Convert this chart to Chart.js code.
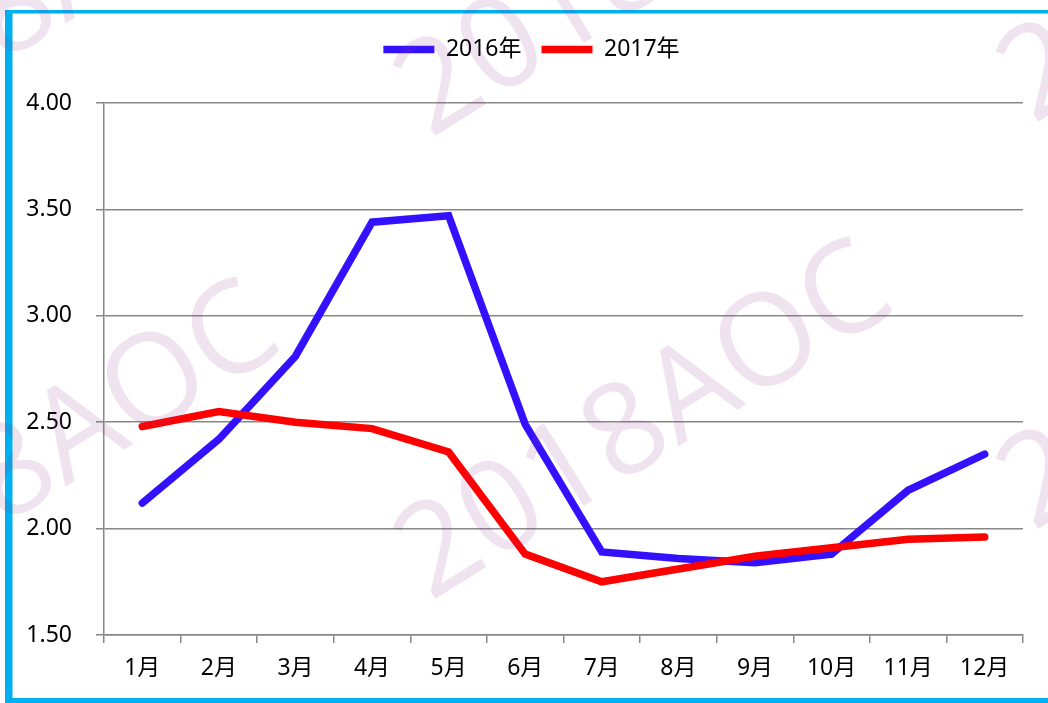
<!DOCTYPE html>
<html>
<head>
	<meta charset="UTF-8">
	<title>2016-2017</title>
	<script src="https://cdn.jsdelivr.net/npm/chart.js@4.4.0/dist/chart.umd.min.js"></script>
	<style>
		body {
			margin:0;
			padding:0;
			overflow: hidden;
			background:#fff;
		}
		canvas {
			display:block;
		}
	</style>
</head>
<body>
	<canvas id="chart" width="1048" height="703"></canvas>
	<script>
		const months = ['1月','2月','3月','4月','5月','6月','7月','8月','9月','10月','11月','12月'];
		const y2016 = [2.12, 2.42, 2.81, 3.44, 3.47, 2.49, 1.89, 1.86, 1.84, 1.88, 2.18, 2.35];
		const y2017 = [2.48, 2.55, 2.50, 2.47, 2.36, 1.88, 1.75, 1.81, 1.87, 1.91, 1.95, 1.96];
		const yTicks = [1.5, 2.0, 2.5, 3.0, 3.5, 4.0];

		const FONT = "'Noto Sans', 'Noto Sans CJK SC', sans-serif";
		const GRID = '#878787';

		// background, cyan frame and the 2018AOC watermark
		const decor = {
			id: 'decor',
			beforeInit(chart) {
				// make the legend box taller so the plot starts lower
				const fit = chart.legend.fit;
				chart.legend.fit = function() {
					fit.call(this);
					this.height += 32;
				};
			},
			afterLayout(chart) {
				// legend sits a bit right of the canvas centre
				chart.legend.left += 20;
				chart.legend.right += 20;
			},
			beforeDraw(chart) {
				const ctx = chart.ctx;
				ctx.save();
				ctx.fillStyle = '#fff';
				ctx.fillRect(0, 0, chart.width, chart.height);
				ctx.restore();
			},
			afterDraw(chart) {
				const ctx = chart.ctx;
				ctx.save();
				ctx.fillStyle = '#00b0f0';
				ctx.fillRect(5, 10, chart.width - 5, 3.5);
				ctx.fillRect(5, 10, 7.5, chart.height - 10);
				ctx.fillRect(5, 698, chart.width - 5, 5);

				ctx.fillStyle = 'rgba(150,60,150,0.14)';
				ctx.font = "128px 'Open Sans', sans-serif";
				ctx.textBaseline = 'alphabetic';
				const spots = [[430, 602], [430, 139], [-183, 642], [1033, 532], [1033, 125], [-183, 179]];
				spots.forEach(p => {
					ctx.save();
					ctx.translate(p[0], p[1]);
					ctx.rotate(-32 * Math.PI / 180);
					ctx.fillText('2018AOC', 0, 0);
					ctx.restore();
				});
				ctx.restore();
			}
		};

		const ctx = document.getElementById('chart').getContext('2d');
		const myChart = new Chart(ctx, {
			type: 'line',
			data: {
				labels: months,
				datasets: [{
					label: '2016年',
					data: y2016,
					borderColor: '#3311ff',
					backgroundColor: '#3311ff',
					borderWidth: 7.5,
					borderCapStyle: 'round',
					pointRadius: 0,
					tension: 0,
					order: 1
				},
				{
					label: '2017年',
					data: y2017,
					borderColor: '#ff0000',
					backgroundColor: '#ff0000',
					borderWidth: 7.5,
					borderCapStyle: 'round',
					pointRadius: 0,
					tension: 0,
					order: 0
				}]
			},
			options: {
				responsive: false,
				animation: false,
				devicePixelRatio: 1,
				layout: {
					padding: {left: 0, right: 25, top: 18, bottom: 18}
				},
				plugins: {
					tooltip: {enabled: false},
					legend: {
						position: 'top',
						labels: {
							usePointStyle: true,
							pointStyle: 'line',
							pointStyleWidth: 51,
							padding: 20,
							color: '#000',
							font: {family: FONT, size: 23},
							sort: (a, b) => a.datasetIndex - b.datasetIndex
						}
					}
				},
				scales: {
					x: {
						offset: true,
						grid: {
							offset: true,
							drawOnChartArea: false,
							drawTicks: true,
							tickLength: 8,
							color: GRID,
							lineWidth: 1.5
						},
						border: {display: true, color: GRID, width: 1.5},
						ticks: {
							color: '#000',
							padding: 12,
							maxRotation: 0,
							font: {family: FONT, size: 23}
						},
						afterFit(scale) {
							scale.height = 50;
							scale.paddingLeft = 0;
							scale.paddingRight = 0;
						}
					},
					y: {
						min: 1.5,
						max: 4.0,
						afterBuildTicks(scale) {
							scale.ticks = yTicks.map(v => ({value: v}));
						},
						grid: {
							color: GRID,
							lineWidth: 1.5,
							tickLength: 8
						},
						border: {display: true, color: GRID, width: 1.5},
						ticks: {
							color: '#000',
							padding: 24,
							font: {family: FONT, size: 23},
							callback: v => v.toFixed(2)
						},
						afterFit(scale) {
							scale.width = 104;
							scale.paddingTop = 0;
							scale.paddingBottom = 0;
						}
					}
				}
			},
			plugins: [decor]
		});
	</script>
</body>
</html>
